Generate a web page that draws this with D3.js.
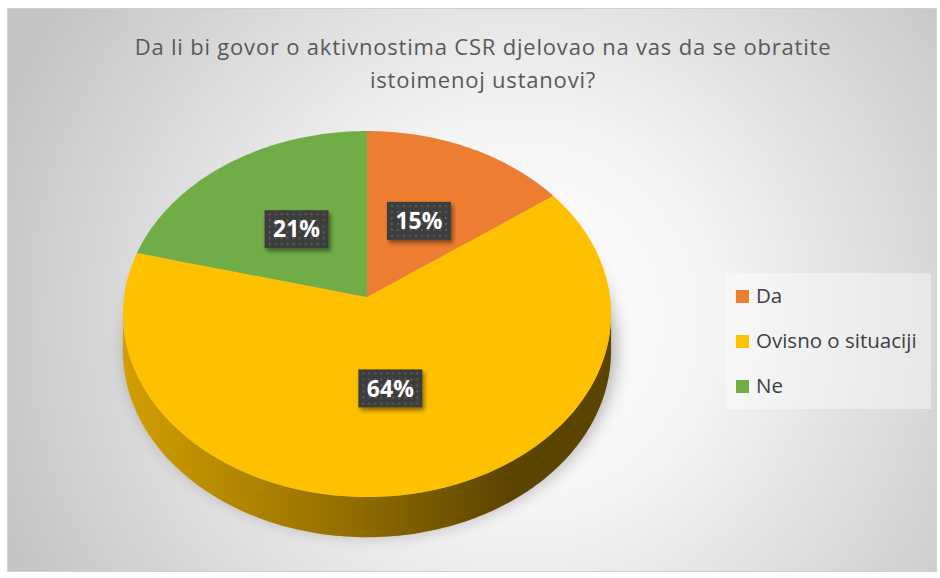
<!DOCTYPE html>
<html>
<head>
<meta charset="utf-8">
<script src="https://cdn.jsdelivr.net/npm/d3@7"></script>
<style>
  body { margin: 0; background: #fff; }
  text { font-family: "Open Sans", "Liberation Sans", sans-serif; }
</style>
</head>
<body>
<script>
// chart data
var categories = ["Da", "Ovisno o situaciji", "Ne"];
var values = [15, 64, 21];
var colors = ["#ed7d31", "#ffc000", "#70ad47"];
var titleLines = ["Da li bi govor o aktivnostima CSR djelovao na vas da se obratite",
                  "istoimenoj ustanovi?"];

var W = 940, H = 578;

// pie geometry (perspective tilt)
var cx = 367, cy = 297,
    kx = 243, ky = 181.4,
    p = 0.093,     // perspective factor
    depth = 36.5,  // thickness
    labelR = 0.49;

function proj(theta, r, drop) {
  var u = r * Math.sin(theta), v = r * Math.cos(theta);
  var den = 1 + p * v;
  return [cx + kx * u / den, cy - ky * v / den + (drop || 0) / den];
}

var svg = d3.select("body").append("svg")
    .attr("width", W)
    .attr("height", H);

var defs = svg.append("defs");

var bg = defs.append("radialGradient")
    .attr("id", "bg")
    .attr("gradientUnits", "userSpaceOnUse")
    .attr("cx", 520).attr("cy", 320).attr("r", 560);
bg.append("stop").attr("offset", 0).attr("stop-color", "#ffffff");
bg.append("stop").attr("offset", 0.35).attr("stop-color", "#f4f4f4");
bg.append("stop").attr("offset", 1).attr("stop-color", "#c4c4c4");

var blur = defs.append("filter").attr("id", "blur")
    .attr("x", "-20%").attr("y", "-20%").attr("width", "140%").attr("height", "140%");
blur.append("feGaussianBlur").attr("stdDeviation", 9);

var boxShadow = defs.append("filter").attr("id", "boxShadow")
    .attr("x", "-30%").attr("y", "-30%").attr("width", "160%").attr("height", "160%");
boxShadow.append("feDropShadow")
    .attr("dx", 2).attr("dy", 3).attr("stdDeviation", 2)
    .attr("flood-color", "#000").attr("flood-opacity", 0.45);

var dots = defs.append("pattern")
    .attr("id", "dots")
    .attr("patternUnits", "userSpaceOnUse")
    .attr("width", 6).attr("height", 6);
dots.append("rect").attr("width", 6).attr("height", 6).attr("fill", "#3d3d3d");
dots.append("rect").attr("x", 2).attr("y", 2).attr("width", 2).attr("height", 2).attr("fill", "#5a5a5a");

// chart area
svg.append("rect")
    .attr("x", 7.5).attr("y", 8.5)
    .attr("width", 929).attr("height", 563)
    .attr("fill", "url(#bg)")
    .attr("stroke", "#d0d0d0");

// title
svg.append("text")
    .attr("x", 483)
    .attr("y", 55)
    .attr("text-anchor", "middle")
    .attr("fill", "#595959")
    .style("font-size", "22px")
    .style("letter-spacing", "0.8px")
    .selectAll("tspan")
    .data(titleLines)
  .enter().append("tspan")
    .attr("x", 483)
    .attr("dy", function(d, i) { return i ? 33 : 0; })
    .text(String);

var arcs = d3.pie().sort(null)(values);

function arcPoints(a0, a1, r, drop) {
  var n = Math.max(2, Math.ceil((a1 - a0) / 0.02));
  var pts = [];
  for (var i = 0; i <= n; i++) pts.push(proj(a0 + (a1 - a0) * i / n, r, drop));
  return pts;
}

var line = d3.line();

// shadow
var outline = arcPoints(0, 2 * Math.PI, 1.0, depth * 0.6);
svg.append("path")
    .attr("d", line(outline) + "Z")
    .attr("transform", "translate(4,12)")
    .attr("fill", "#000")
    .attr("opacity", 0.32)
    .attr("filter", "url(#blur)");

// sides (visible front part of the rim)
var visA = Math.acos(-p), visB = 2 * Math.PI - visA;
var g = svg.append("g");

arcs.forEach(function(d, i) {
  var a0 = Math.max(d.startAngle, visA), a1 = Math.min(d.endAngle, visB);
  if (a1 <= a0) return;
  var gid = "side" + i;
  var c = d3.color(colors[i]);
  var grad = defs.append("linearGradient")
      .attr("id", gid)
      .attr("gradientUnits", "userSpaceOnUse")
      .attr("x1", cx - kx).attr("y1", 0)
      .attr("x2", cx + kx).attr("y2", 0);
  grad.append("stop").attr("offset", 0).attr("stop-color", c.darker(0.55));
  grad.append("stop").attr("offset", 0.45).attr("stop-color", c.darker(1.5));
  grad.append("stop").attr("offset", 0.8).attr("stop-color", c.darker(2.9));
  grad.append("stop").attr("offset", 1).attr("stop-color", c.darker(2.9));
  var top = arcPoints(a0, a1, 1, 0);
  var bot = arcPoints(a0, a1, 1, depth).reverse();
  g.append("path")
      .attr("d", line(top.concat(bot)) + "Z")
      .attr("fill", "url(#" + gid + ")");
});

// top faces
g.selectAll("path.slice")
    .data(arcs)
  .enter().append("path")
    .attr("class", "slice")
    .attr("d", function(d) {
      return line([[cx, cy]].concat(arcPoints(d.startAngle, d.endAngle, 1, 0))) + "Z";
    })
    .attr("fill", function(d, i) { return colors[i]; });

// data labels
var total = d3.sum(values);
var lab = svg.selectAll("g.lab")
    .data(arcs)
  .enter().append("g")
    .attr("class", "lab")
    .attr("transform", function(d) {
      var pt = proj((d.startAngle + d.endAngle) / 2, labelR, 0);
      return "translate(" + pt[0] + "," + pt[1] + ")";
    });

lab.append("rect")
    .attr("x", -32).attr("y", -19)
    .attr("width", 64).attr("height", 38)
    .attr("fill", "url(#dots)")
    .attr("filter", "url(#boxShadow)");

lab.append("text")
    .attr("text-anchor", "middle")
    .attr("dy", "0.36em")
    .attr("fill", "#fff")
    .style("font-size", "23px")
    .style("font-weight", "bold")
    .text(function(d) { return Math.round(d.value / total * 100) + "%"; });

// legend
var legend = svg.append("g").attr("transform", "translate(726,273)");
legend.append("rect")
    .attr("width", 205).attr("height", 136)
    .attr("fill", "#ffffff")
    .attr("fill-opacity", 0.4);

var li = legend.selectAll("g.item")
    .data(categories)
  .enter().append("g")
    .attr("class", "item")
    .attr("transform", function(d, i) { return "translate(10," + (23 + i * 45) + ")"; });

li.append("rect")
    .attr("y", -6).attr("width", 13).attr("height", 13)
    .attr("fill", function(d, i) { return colors[i]; });

li.append("text")
    .attr("x", 20)
    .attr("dy", "0.36em")
    .attr("fill", "#404040")
    .style("font-size", "20.5px")
    .text(String);
</script>
</body>
</html>
